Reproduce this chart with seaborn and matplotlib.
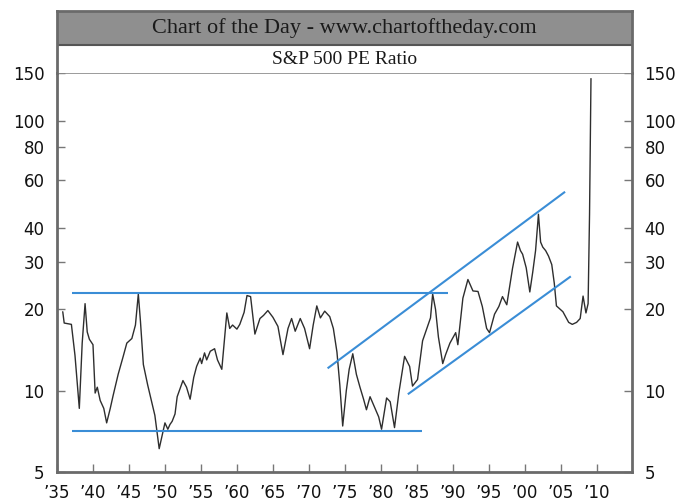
import matplotlib
matplotlib.use("Agg")
import matplotlib.pyplot as plt
import seaborn as sns
import pandas as pd
from matplotlib.patches import Rectangle

# S&P 500 PE ratio (year, PE)
pe_years = [
    1935.8, 1936.0, 1936.5, 1937.0, 1937.5, 1938.1, 1938.5, 1938.9, 1939.2, 1939.5,
    1940.0, 1940.3, 1940.6, 1941.0, 1941.5, 1941.9, 1942.4, 1942.8, 1943.5, 1944.2,
    1944.7, 1945.4, 1945.9, 1946.3, 1946.6, 1947.0, 1947.6, 1948.2, 1948.6, 1949.2,
    1949.6, 1950.0, 1950.4, 1950.7, 1951.0, 1951.4, 1951.7, 1952.5, 1953.0, 1953.5,
    1954.0, 1954.4, 1954.9, 1955.1, 1955.5, 1955.8, 1956.3, 1956.9, 1957.3, 1957.9,
    1958.6, 1959.0, 1959.4, 1960.0, 1960.4, 1961.0, 1961.4, 1961.9, 1962.5, 1963.2,
    1963.7, 1964.3, 1965.0, 1965.7, 1966.4, 1967.1, 1967.6, 1968.1, 1968.8, 1969.4,
    1970.1, 1970.6, 1971.1, 1971.6, 1972.2, 1972.9, 1973.4, 1973.9, 1974.3, 1974.7,
    1975.2, 1975.6, 1976.1, 1976.6, 1977.1, 1977.6, 1978.0, 1978.5, 1979.2, 1979.7,
    1980.1, 1980.8, 1981.3, 1981.9, 1982.5, 1983.3, 1984.0, 1984.4, 1985.1, 1985.8,
    1986.4, 1986.9, 1987.2, 1987.6, 1988.0, 1988.6, 1989.0, 1989.6, 1990.4, 1990.7,
    1991.4, 1992.1, 1992.8, 1993.5, 1994.1, 1994.7, 1995.1, 1995.8, 1996.4, 1996.9,
    1997.5, 1998.3, 1999.0, 1999.4, 1999.7, 2000.2, 2000.7, 2001.1, 2001.5, 2001.9,
    2002.2, 2002.5, 2002.9, 2003.3, 2003.75, 2004.1, 2004.4, 2005.3, 2006.1, 2006.6,
    2007.2, 2007.7, 2008.1, 2008.5, 2008.8, 2009.0, 2009.2,
]
pe_values = [
    19.6, 17.8, 17.7, 17.6, 13.5, 8.6, 15.0, 21.0, 16.5, 15.5,
    14.8, 9.8, 10.3, 9.2, 8.6, 7.6, 8.6, 9.6, 11.5, 13.4,
    15.0, 15.6, 17.5, 22.8, 18.0, 12.5, 10.5, 9.0, 8.1, 6.1,
    6.8, 7.6, 7.2, 7.5, 7.7, 8.2, 9.5, 10.9, 10.3, 9.3,
    11.2, 12.3, 13.2, 12.6, 13.8, 13.0, 14.0, 14.3, 13.0, 12.0,
    19.4, 17.0, 17.5, 16.9, 17.6, 19.5, 22.5, 22.3, 16.2, 18.5,
    19.0, 19.8, 18.7, 17.3, 13.6, 17.0, 18.5, 16.6, 18.5, 17.0,
    14.3, 17.5, 20.6, 18.6, 19.7, 18.8, 17.0, 13.9, 10.5, 7.4,
    10.0, 12.0, 13.7, 11.5, 10.3, 9.3, 8.5, 9.5, 8.6, 8.0,
    7.2, 9.4, 9.1, 7.3, 9.8, 13.4, 12.3, 10.4, 11.0, 15.3,
    17.0, 18.6, 22.8, 20.0, 15.8, 12.6, 13.6, 15.0, 16.4, 14.8,
    22.0, 25.8, 23.4, 23.3, 20.5, 17.0, 16.4, 19.2, 20.5, 22.3,
    20.8, 28.4, 35.5, 33.0, 32.0, 28.5, 23.2, 27.4, 33.0, 45.0,
    35.5, 34.0, 33.0, 31.5, 29.3, 25.0, 20.6, 19.6, 17.9, 17.6,
    17.9, 18.5, 22.4, 19.4, 21.0, 45.0, 143.0,
]

# trend lines drawn on the chart
range_top_x = [1937.1, 1989.3]
range_top_y = [22.9, 22.9]
range_bottom_x = [1937.1, 1985.7]
range_bottom_y = [7.1, 7.1]
channel_upper_x = [1972.6, 2005.6]
channel_upper_y = [12.1, 54.5]
channel_lower_x = [1983.75, 2006.4]
channel_lower_y = [9.7, 26.5]

y_ticks = [5, 10, 20, 30, 40, 60, 80, 100, 150]
x_ticks = list(range(1935, 2011, 5))
x_labels = ["\u2019" + str(y)[2:] for y in x_ticks]

title = "Chart of the Day - www.chartoftheday.com"
subtitle = "S&P 500 PE Ratio"

sns.set_style("white")
plt.rcParams["font.family"] = ["DejaVu Sans"]

W, H = 677, 504
fig = plt.figure(figsize=(W / 100, H / 100), dpi=100)
frame_col = "#6a6a6a"
blue = "#3a8dd6"

ax = fig.add_axes([57 / W, (H - 472) / H, 575 / W, (472 - 73) / H])
df = pd.DataFrame({"year": pe_years, "pe": pe_values})
sns.lineplot(data=df, x="year", y="pe", ax=ax, color="#2e2e2e", lw=1.0, sort=False)

for xs, ys in [(range_top_x, range_top_y), (range_bottom_x, range_bottom_y),
               (channel_upper_x, channel_upper_y), (channel_lower_x, channel_lower_y)]:
    ax.plot(xs, ys, color=blue, lw=1.5, solid_capstyle="butt")

ax.set_yscale("log")
ax.set_ylim(5, 150)
ax.set_xlim(1935, 2014.9)
ax.set_yticks(y_ticks)
ax.set_yticklabels([str(v) for v in y_ticks])
ax.minorticks_off()
ax.set_xticks(x_ticks)
ax.set_xticklabels(x_labels)
ax.set_xlabel("")
ax.set_ylabel("")
ax.tick_params(axis="y", which="major", direction="in", length=6, width=1.0,
               color="#777777", left=True, right=True, labelleft=True, labelright=True,
               labelsize=12, labelcolor="#111111", pad=9)
ax.tick_params(axis="x", which="major", direction="in", length=6, width=1.0,
               color="#777777", bottom=True, labelsize=12, labelcolor="#111111", pad=9)
for side in ["left", "right", "bottom"]:
    ax.spines[side].set_color(frame_col)
    ax.spines[side].set_linewidth(2.0)
ax.spines["top"].set_color("#8a8a8a")
ax.spines["top"].set_linewidth(1.2)

# header with title bands
hax = fig.add_axes([57 / W, (H - 73) / H, 575 / W, (73 - 11) / H])
hax.set_xlim(0, 1)
hax.set_ylim(0, 62)
hax.set_xticks([])
hax.set_yticks([])
hax.add_patch(Rectangle((0, 73 - 45), 1, 45 - 11, facecolor="#8f8f8f",
                        edgecolor="none"))
hax.axhline(73 - 45, color="#555555", lw=1.5)
for side in ["left", "right", "top"]:
    hax.spines[side].set_color(frame_col)
    hax.spines[side].set_linewidth(2.0)
hax.spines["bottom"].set_visible(False)
hax.text(0.5, 73 - 28, title, ha="center", va="center", fontsize=16,
         family=["Liberation Serif"], color="#1a1a1a")
hax.text(0.5, (73 - 45) / 2, subtitle, ha="center", va="center", fontsize=14,
         family=["Liberation Serif"], color="#1a1a1a")

fig.savefig("out.png", dpi=100)
